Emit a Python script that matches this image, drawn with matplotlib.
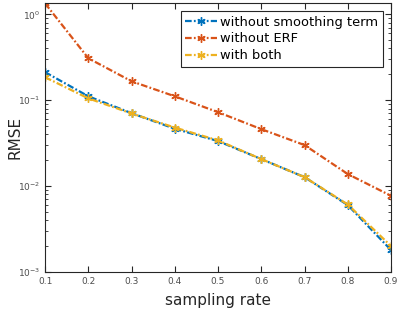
import matplotlib.pyplot as plt
import numpy as np

# sampling rates and RMSE values
rate = [0.1, 0.2, 0.3, 0.4, 0.5, 0.6, 0.7, 0.8, 0.9]
no_smooth = [0.212, 0.111, 0.0706, 0.0465, 0.0334, 0.0206, 0.0127, 0.0060, 0.0018]
no_erf = [1.34, 0.308, 0.166, 0.111, 0.0725, 0.046, 0.030, 0.0138, 0.0077]
both = [0.185, 0.105, 0.0700, 0.0480, 0.0340, 0.0206, 0.0127, 0.0061, 0.0020]

ax_col = '#262626'
tick_col = '#4d4d4d'

fig = plt.figure(figsize=(3.99, 3.14), dpi=100)
ax = fig.add_axes([0.113, 0.134, 0.867, 0.856])

style = dict(linestyle='-.', dashes=[3, 1, 0.8, 1], linewidth=1.6,
             marker=(6, 2, 0), markersize=6, markeredgewidth=1.0)
ax.plot(rate, no_smooth, color='#0072BD', label='without smoothing term', **style)
ax.plot(rate, no_erf, color='#D95319', label='without ERF', **style)
ax.plot(rate, both, color='#EDB120', label='with both', **style)

ax.set_yscale('log')
ax.set_xlim(0.1, 0.9)
ax.set_ylim(1e-3, 1.35)
ax.set_xticks(rate)
ax.set_xticklabels([str(r) for r in rate])
ax.tick_params(which='both', direction='in', top=True, right=True, colors=ax_col,
               labelcolor=tick_col, labelsize=6.5)
ax.tick_params(which='major', length=4)
ax.tick_params(which='minor', length=2)
for s in ax.spines.values():
    s.set_color(ax_col)
    s.set_linewidth(0.8)

ax.set_xlabel('sampling rate', fontsize=11, color=ax_col, labelpad=5)
ax.set_ylabel('RMSE', fontsize=11, color=ax_col)
ax.yaxis.set_label_coords(-0.066, 0.5)

leg = ax.legend(loc='upper right', fontsize=9.4, handlelength=2.4, handletextpad=0.3,
                borderpad=0.35, labelspacing=0.3, fancybox=False, framealpha=1,
                borderaxespad=0.6)
leg.get_frame().set_edgecolor(ax_col)
leg.get_frame().set_linewidth(0.8)

fig.savefig('out.png', dpi=100)
